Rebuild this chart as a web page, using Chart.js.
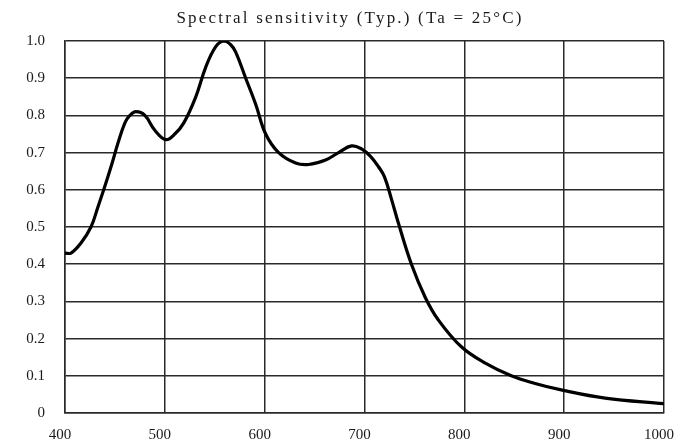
<!DOCTYPE html>
<html>
<head>
<meta charset="utf-8">
<script src="https://cdn.jsdelivr.net/npm/chart.js@4"></script>
<style>
  html, body { margin: 0; padding: 0; background: #fff; }
  #wrap { width: 682px; height: 444px; }
</style>
</head>
<body>
<div id="wrap"><canvas id="chart" width="682" height="444"></canvas></div>
<script>
// wavelength (nm) and relative sensitivity
const wavelength = [400, 406, 416, 426, 433, 440, 447, 453, 460, 465, 471, 480, 490, 501, 510, 519, 531, 541, 551, 559, 566, 571, 581, 591, 601, 614, 631, 644, 661, 674, 687, 697, 706, 714, 720, 727, 734, 747, 761, 774, 797, 821, 847, 870, 897, 941, 1000];
const sensitivity = [0.43, 0.43, 0.457, 0.50, 0.554, 0.61, 0.67, 0.725, 0.78, 0.80, 0.81, 0.80, 0.76, 0.735, 0.75, 0.78, 0.85, 0.93, 0.985, 1.0, 0.99, 0.97, 0.90, 0.83, 0.75, 0.70, 0.672, 0.668, 0.68, 0.70, 0.718, 0.71, 0.69, 0.662, 0.635, 0.575, 0.51, 0.40, 0.31, 0.25, 0.178, 0.134, 0.10, 0.08, 0.062, 0.04, 0.025];
const xTicks = [400, 500, 600, 700, 800, 900, 1000];
const yTicks = [0, 0.1, 0.2, 0.3, 0.4, 0.5, 0.6, 0.7, 0.8, 0.9, 1.0];
const titleText = 'Spectral sensitivity (Typ.) (Ta = 25°C)';

const points = wavelength.map((w, i) => ({ x: w, y: sensitivity[i] }));

const titlePlugin = {
  id: 'spacedTitle',
  afterDraw(chart) {
    const ctx = chart.ctx;
    ctx.save();
    ctx.font = '17px "Liberation Serif"';
    ctx.letterSpacing = '2.2px';
    ctx.fillStyle = '#1a1a1a';
    ctx.textAlign = 'center';
    ctx.textBaseline = 'middle';
    ctx.fillText(titleText, 350, 19);
    ctx.restore();
  }
};

const gridColor = '#2a2a2a';
const tickFont = { family: 'Liberation Serif', size: 15 };

new Chart(document.getElementById('chart').getContext('2d'), {
  type: 'line',
  data: {
    datasets: [{
      data: points,
      borderColor: '#000',
      borderWidth: 3.2,
      pointRadius: 0,
      fill: false,
      tension: 0.4
    }]
  },
  options: {
    responsive: false,
    animation: false,
    layout: { padding: { top: 41, right: 18, left: 0, bottom: 0 } },
    plugins: { legend: { display: false }, tooltip: { enabled: false } },
    scales: {
      x: {
        type: 'linear',
        min: 400,
        max: 1000,
        afterBuildTicks: scale => { scale.ticks = xTicks.map(v => ({ value: v })); },
        afterFit: scale => {
          scale.height = 31;
          scale.paddingLeft = 0;
          scale.paddingRight = 0;
        },
        grid: { color: gridColor, lineWidth: 1.5, drawTicks: false },
        border: { color: gridColor, width: 1.5 },
        ticks: {
          color: '#1a1a1a',
          font: tickFont,
          padding: 13,
          labelOffset: -5,
          maxRotation: 0,
          callback: v => String(v)
        }
      },
      y: {
        min: 0,
        max: 1,
        afterBuildTicks: scale => { scale.ticks = yTicks.map(v => ({ value: v })); },
        afterFit: scale => {
          scale.width = 65;
          scale.paddingTop = 0;
          scale.paddingBottom = 0;
        },
        grid: { color: gridColor, lineWidth: 1.5, drawTicks: false },
        border: { color: gridColor, width: 1.5 },
        ticks: {
          color: '#1a1a1a',
          font: tickFont,
          padding: 20,
          callback: v => v === 0 ? '0' : v.toFixed(1)
        }
      }
    }
  },
  plugins: [titlePlugin]
});
</script>
</body>
</html>
